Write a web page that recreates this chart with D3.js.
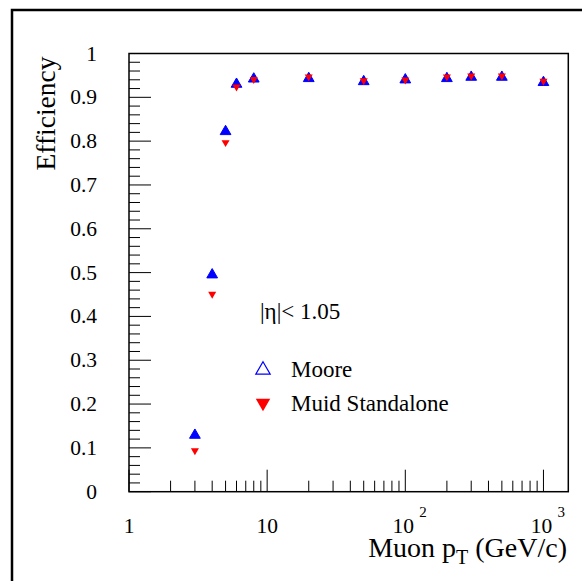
<!DOCTYPE html>
<html>
<head>
<meta charset="utf-8">
<script src="https://cdn.jsdelivr.net/npm/d3@7"></script>
<style>
  body { margin: 0; background: #fff; }
  svg { display: block; }
  text { font-family: 'Liberation Serif', serif; }
</style>
</head>
<body>
<svg id="canvas"></svg>
<script>
// muon pT points (GeV/c)
let ptValues = [3, 4, 5, 6, 8, 20, 50, 100, 200, 300, 500, 1000]
let mooreEff = [0.129, 0.495, 0.822, 0.930, 0.942, 0.943, 0.936, 0.940, 0.943, 0.946, 0.946, 0.934]
let muidEff  = [0.094, 0.451, 0.797, 0.924, 0.941, 0.947, 0.938, 0.940, 0.947, 0.949, 0.949, 0.937]
let yTicks = [0, 0.1, 0.2, 0.3, 0.4, 0.5, 0.6, 0.7, 0.8, 0.9, 1]
let xTicks = [1, 10, 100, 1000]
let legendNames = ['Moore', 'Muid Standalone']

let width = 582
let height = 581
let padLeft = 129
let padRight = 568.3
let padTop = 53.5
let padBottom = 491.7

let svg = d3.select('#canvas').attr('width', width).attr('height', height)

let xScale = d3.scaleLog().domain([1, 1513]).range([padLeft, padRight])
let yScale = d3.scaleLinear().domain([0, 1]).range([padBottom, padTop])

// outer pad border
svg.append('rect')
   .attr('x', 12).attr('y', 10)
   .attr('width', 640).attr('height', 640)
   .attr('fill', 'none').attr('stroke', '#000').attr('stroke-width', 2.5)

// frame
svg.append('rect')
   .attr('x', padLeft).attr('y', padTop)
   .attr('width', padRight - padLeft).attr('height', padBottom - padTop)
   .attr('fill', 'none').attr('stroke', '#000').attr('stroke-width', 1.5)

// y ticks (inside, on the left)
let yMinor = d3.range(0, 1.0001, 0.02)
svg.append('g').selectAll('line')
   .data(yMinor)
   .enter().append('line')
   .attr('x1', padLeft)
   .attr('x2', (d) => {
       return Math.abs(d * 10 - Math.round(d * 10)) < 1e-6 ? padLeft + 22 : padLeft + 11
   })
   .attr('y1', (d) => yScale(d)).attr('y2', (d) => yScale(d))
   .attr('stroke', '#000').attr('stroke-width', 1)

svg.append('g').selectAll('text')
   .data(yTicks)
   .enter().append('text')
   .attr('x', 97)
   .attr('y', (d) => yScale(d) + 7)
   .attr('text-anchor', 'end')
   .attr('font-size', 21.5)
   .text((d) => d3.format('')(d))

// x ticks (log, inside, from the bottom)
let xMinor = []
for (let dec = 1; dec <= 1000; dec *= 10) {
    for (let m = 1; m <= 9; m++) {
        if (dec * m <= 1513) xMinor.push(dec * m)
    }
}
svg.append('g').selectAll('line')
   .data(xMinor)
   .enter().append('line')
   .attr('x1', (d) => xScale(d)).attr('x2', (d) => xScale(d))
   .attr('y1', padBottom)
   .attr('y2', (d) => xTicks.includes(d) ? padBottom - 22 : padBottom - 11)
   .attr('stroke', '#000').attr('stroke-width', 1)

let xLabels = svg.append('g')
xLabels.selectAll('text.base')
   .data(xTicks)
   .enter().append('text')
   .attr('class', 'base')
   .attr('x', (d) => d < 100 ? xScale(d) : xScale(d) - 2)
   .attr('y', 533)
   .attr('text-anchor', 'middle')
   .attr('font-size', 21.5)
   .text((d) => d < 100 ? d : '10')

xLabels.selectAll('text.exp')
   .data(xTicks.filter((d) => d >= 100))
   .enter().append('text')
   .attr('class', 'exp')
   .attr('x', (d) => xScale(d) + 14)
   .attr('y', 517)
   .attr('font-size', 15)
   .text((d) => Math.round(Math.log10(d)))

// axis titles
let xTitle = svg.append('text')
   .attr('x', 567).attr('y', 557)
   .attr('text-anchor', 'end')
   .attr('font-size', 28)
xTitle.append('tspan').text('Muon p')
xTitle.append('tspan').attr('font-size', 20).attr('dy', 7).text('T')
xTitle.append('tspan').attr('dy', -7).text(' (GeV/c)')

svg.append('text')
   .attr('transform', 'translate(55,' + (padTop + 3) + ') rotate(-90)')
   .attr('text-anchor', 'end')
   .attr('font-size', 27.5)
   .text('Efficiency')

// markers
let triUp = d3.symbol().type(d3.symbolTriangle)
let triDown = d3.symbol().type(d3.symbolTriangle)

svg.append('g').selectAll('path')
   .data(ptValues.map((p, i) => [p, mooreEff[i]]))
   .enter().append('path')
   .attr('d', triUp.size(50)())
   .attr('transform', (d) => 'translate(' + xScale(d[0]) + ',' + yScale(d[1]) + ')')
   .attr('fill', '#0000ff').attr('stroke', '#0000ff').attr('stroke-width', 1)

svg.append('g').selectAll('path')
   .data(ptValues.map((p, i) => [p, muidEff[i]]))
   .enter().append('path')
   .attr('d', triDown.size(28)())
   .attr('transform', (d) => 'translate(' + xScale(d[0]) + ',' + yScale(d[1]) + ') rotate(180)')
   .attr('fill', '#ff0000')

// legend
svg.append('text')
   .attr('x', 260).attr('y', 319)
   .attr('font-size', 23)
   .text('|η|< 1.05')

svg.append('path')
   .attr('d', triUp.size(90)())
   .attr('transform', 'translate(263,370)')
   .attr('fill', 'none').attr('stroke', '#0000ff').attr('stroke-width', 1.2)

svg.append('path')
   .attr('d', triDown.size(90)())
   .attr('transform', 'translate(263,403) rotate(180)')
   .attr('fill', '#ff0000')

svg.append('g').selectAll('text')
   .data(legendNames)
   .enter().append('text')
   .attr('x', 291)
   .attr('y', (d, i) => 377 + i * 34)
   .attr('font-size', 23)
   .text((d) => d)
</script>
</body>
</html>
